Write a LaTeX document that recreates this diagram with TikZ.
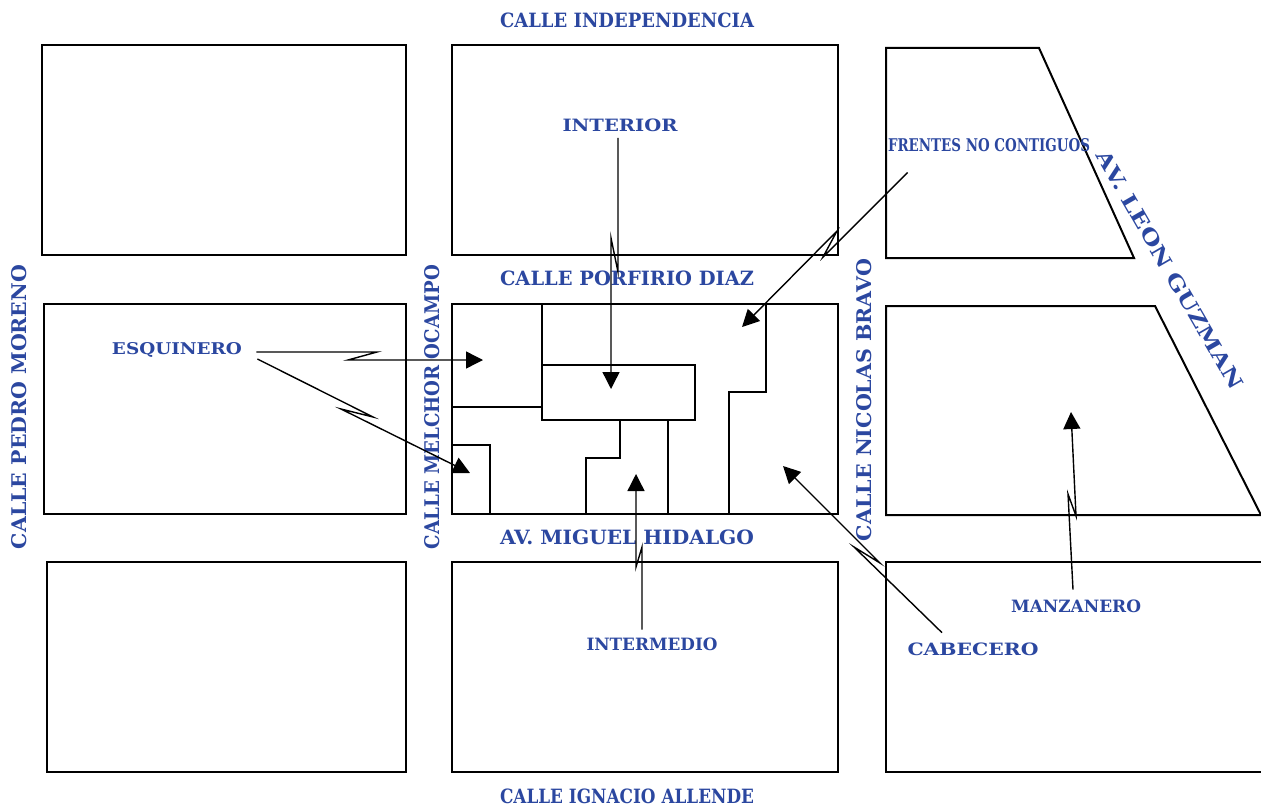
\documentclass[tikz,border=0pt]{standalone}
\usepackage{fontspec}
\setmainfont{Liberation Serif}
\newfontfamily\mapfont{DejaVu Serif}
\usepackage{graphicx}
\usepackage{tikz}
\usetikzlibrary{arrows.meta,calc}
\definecolor{calleblue}{RGB}{43,71,160}
\newcommand{\fitlabel}[3]{\resizebox{#1}{#2}{\mapfont\bfseries #3}}

\begin{document}
\begin{tikzpicture}[x=0.5pt,y=-0.5pt]
                \tikzstyle{block}=[draw=black, line width=1pt]
                \tikzstyle{street}=[text=calleblue, inner sep=0pt]
                \tikzstyle{tag}=[text=calleblue, inner sep=3pt]
                \tikzstyle{pointer}=[draw, line width=0.7pt, -{Triangle[length=8.5pt,width=8.5pt]}]

                \useasboundingbox (0,0) rectangle (1261,808);

                \foreach \xa/\ya/\xb/\yb in {42/45/406/255, 452/45/838/255, 44/304/406/514, 452/304/838/514, 47/562/406/772, 452/562/838/772}
                \draw[block] (\xa,\ya) rectangle (\xb,\yb);
                \draw[block] (886,48) -- (1039,48) -- (1134,258) -- (886,258) -- cycle;
                \draw[block] (886,306) -- (1155,306) -- (1261,515) -- (886,515) -- cycle;
                \draw[block] (1261,562) -- (886,562) -- (886,772) -- (1261,772);

                \draw[block] (452,407) -- (542,407);
                \draw[block] (542,304) -- (542,420);
                \draw[block] (542,365) rectangle (695,420);
                \draw[block] (452,445) -- (490,445) -- (490,514);
                \draw[block] (620,420) -- (620,458) -- (586,458) -- (586,514);
                \draw[block] (668,420) -- (668,514);
                \draw[block] (766,304) -- (766,392) -- (729,392) -- (729,514);

                \node[street] (independencia) at (627,20) {\fitlabel{127pt}{7.3pt}{CALLE INDEPENDENCIA}};
                \node[street] (porfirio) at (627,278) {\fitlabel{127pt}{7.3pt}{CALLE PORFIRIO DIAZ}};
                \node[street] (hidalgo) at (627,537) {\fitlabel{127pt}{7.3pt}{AV. MIGUEL HIDALGO}};
                \node[street] (allende) at (627,796) {\fitlabel{127pt}{7.3pt}{CALLE IGNACIO ALLENDE}};
                \node[street, rotate=90] (moreno) at (19.5,407) {\fitlabel{142pt}{7.5pt}{CALLE PEDRO MORENO}};
                \node[street, rotate=90] (ocampo) at (432,407) {\fitlabel{142pt}{7.5pt}{CALLE MELCHOR OCAMPO}};
                \node[street, rotate=90] (bravo) at (864,400) {\fitlabel{141pt}{7.5pt}{CALLE NICOLAS BRAVO}};
                \node[street, rotate=-60] (guzman) at (1170,270) {\fitlabel{136pt}{7.5pt}{AV. LEON GUZMAN}};

                \node[tag] (esquinero) at (177,350) {\fitlabel{65pt}{6pt}{ESQUINERO}};
                \node[tag] (interior) at (620,125) {\fitlabel{57.5pt}{6.3pt}{INTERIOR}};
                \node[tag] (frentes) at (989,145) {\fitlabel{101pt}{6.5pt}{FRENTES NO CONTIGUOS}};
                \node[tag] (intermedio) at (652,644) {\fitlabel{65.5pt}{6.3pt}{INTERMEDIO}};
                \node[tag] (cabecero) at (973,649) {\fitlabel{65.5pt}{6.3pt}{CABECERO}};
                \node[tag] (manzanero) at (1076,606) {\fitlabel{65pt}{6.3pt}{MANZANERO}};

                \coordinate (esqa) at (483,360);
                \coordinate (esqb) at (470,473);
                \coordinate (inta) at (611,389);
                \coordinate (fnca) at (742,327);
                \coordinate (inma) at (636,474);
                \coordinate (caba) at (783,466);
                \coordinate (mana) at (1071,412);

                \draw[pointer] ($(esquinero.east)+(8,2)$) -- (377,352) -- (348,360) -- (esqa);
                \draw[pointer] ($(esquinero.east)+(9,9)$) -- (373,417) -- (341,409) -- (esqb);
                \draw[pointer] ($(interior.south)+(-2,0)$) -- (618,272) -- (611,238) -- (inta);
                \draw[pointer] ($(frentes.south west)+(26,14.5)$) -- (823,257) -- (837,231) -- (fnca);
                \draw[pointer] ($(intermedio.north)+(-10,-1.5)$) -- (642,547) -- (636,567) -- (inma);
                \draw[pointer] ($(cabecero.north)+(-31,-3.5)$) -- (854,547) -- (880,563) -- (caba);
                \draw[pointer] ($(manzanero.north)+(-3,-3.5)$) -- (1068,494) -- (1076,516) -- (mana);
            \end{tikzpicture}
\end{document}
